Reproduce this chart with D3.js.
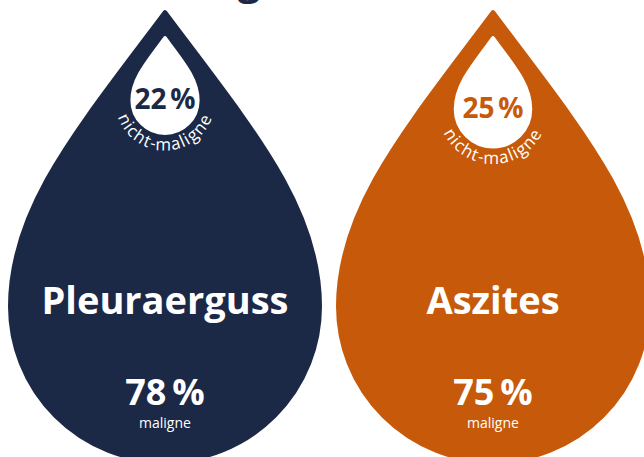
<!DOCTYPE html>
<html>
<head>
<meta charset="utf-8">
<script src="https://cdn.jsdelivr.net/npm/d3@7"></script>
<style>
  body { margin: 0; background: #fff; }
  svg { display: block; font-family: "Open Sans", sans-serif; }
</style>
</head>
<body>
<svg id="chart"></svg>
<script>
// Ergüsse: Anteil maligne / nicht-maligne
const categories = ["Pleuraerguss", "Aszites"];
const maligne = [78, 75];
const nichtMaligne = [22, 25];
const colors = ["#1b2846", "#c65a0a"];

const width = 644, height = 457;

const svg = d3.select("#chart")
    .attr("width", width)
    .attr("height", height);

const x = d3.scalePoint()
    .domain(categories)
    .range([165, 493]);

// outer drop radius, inner drop scales with share
const R = 155;
const size = d3.scaleLinear().domain([0, 100]).range([0, R]);

/**
 * drop path: tip at (cx, tipY), round bottom of radius r
 */
function dropPath(cx, tipY, r) {
    let cy = tipY + 1.9 * r;
    let p = d3.path();
    p.moveTo(cx, tipY);
    p.bezierCurveTo(cx + 0.573 * r, tipY + 0.764 * r, cx + r, cy - 0.637 * r, cx + r, cy);
    p.arc(cx, cy, r, 0, Math.PI, false);
    p.bezierCurveTo(cx - r, cy - 0.637 * r, cx - 0.573 * r, tipY + 0.764 * r, cx, tipY);
    p.closePath();
    return p.toString();
}

// title, mostly outside the frame
svg.append("text")
    .attr("x", 196)
    .attr("y", -5)
    .attr("fill", colors[0])
    .attr("font-size", 40)
    .attr("font-weight", 700)
    .text("Dignität");

const data = categories.map((c, i) => ({
    name: c, mal: maligne[i], nicht: nichtMaligne[i], color: colors[i], i: i
}));

const g = svg.selectAll("g.drop")
    .data(data)
    .enter().append("g")
    .attr("class", "drop");

// outer drop
g.append("path")
    .attr("d", d => dropPath(x(d.name), 12, R))
    .attr("fill", d => d.color)
    .attr("stroke", d => d.color)
    .attr("stroke-width", 4)
    .attr("stroke-linejoin", "round");

// inner white drop
g.append("path")
    .attr("d", d => dropPath(x(d.name), 37.5, size(d.nicht) - 1))
    .attr("fill", "#fff")
    .attr("stroke", "#fff")
    .attr("stroke-width", 3)
    .attr("stroke-linejoin", "round");

const innerCy = d => 37.5 + 1.9 * (size(d.nicht) - 1);

g.append("text")
    .attr("x", d => x(d.name))
    .attr("y", d => innerCy(d) + 9)
    .attr("text-anchor", "middle")
    .attr("fill", d => d.color)
    .attr("font-size", 28)
    .attr("font-weight", 700)
    .text(d => d.nicht + "\u202F%");

// curved label under the inner drop
g.append("path")
    .attr("id", d => "arc" + d.i)
    .attr("fill", "none")
    .attr("d", d => {
        let cx = x(d.name), cy = innerCy(d), rr = size(d.nicht) + 16;
        let p = d3.path();
        p.arc(cx, cy, rr, Math.PI, 0, true);
        return p.toString();
    });

g.append("text")
    .attr("fill", "#fff")
    .attr("font-size", 17)
    .attr("letter-spacing", 1.2)
    .append("textPath")
    .attr("href", d => "#arc" + d.i)
    .attr("startOffset", "50%")
    .attr("text-anchor", "middle")
    .text("nicht-maligne");

g.append("text")
    .attr("x", d => x(d.name))
    .attr("y", 314)
    .attr("text-anchor", "middle")
    .attr("fill", "#fff")
    .attr("font-size", 38)
    .attr("font-weight", 700)
    .text(d => d.name);

g.append("text")
    .attr("x", d => x(d.name))
    .attr("y", 405)
    .attr("text-anchor", "middle")
    .attr("fill", "#fff")
    .attr("font-size", 36)
    .attr("font-weight", 700)
    .text(d => d.mal + "\u2009%");

g.append("text")
    .attr("x", d => x(d.name))
    .attr("y", 428)
    .attr("text-anchor", "middle")
    .attr("fill", "#fff")
    .attr("font-size", 14)
    .text("maligne");
</script>
</body>
</html>
